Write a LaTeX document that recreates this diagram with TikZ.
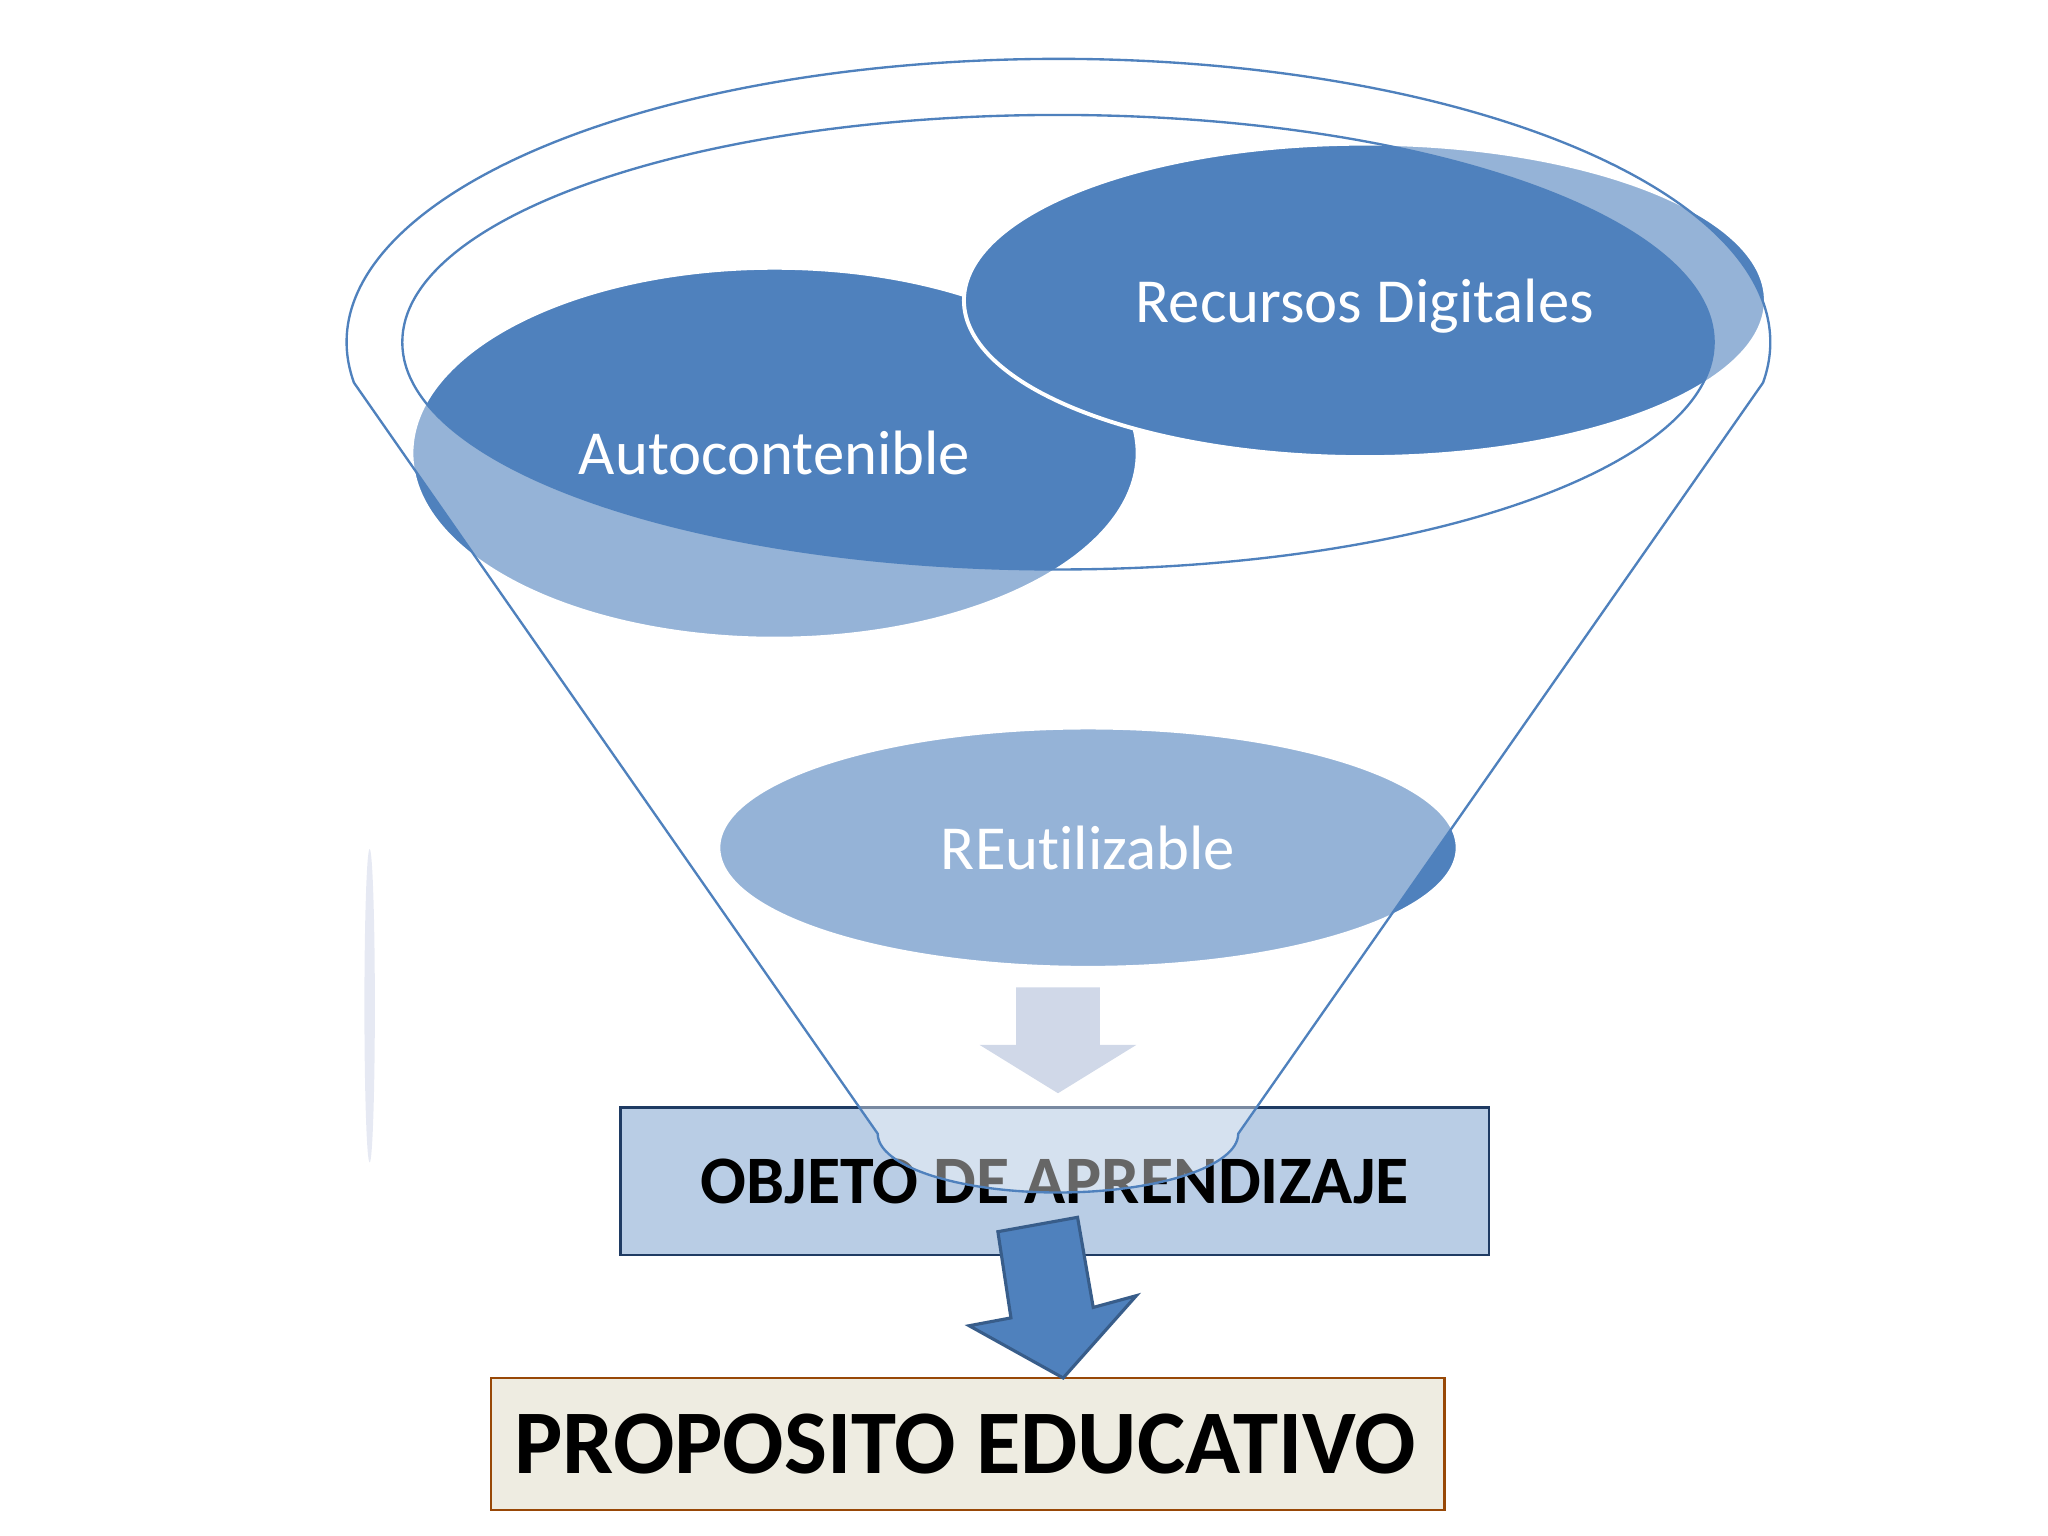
\documentclass[tikz,border=0pt]{standalone}
\usepackage{fontspec}
\setmainfont{Carlito}[Ligatures=NoCommon]
\usepackage{tikz}
\usetikzlibrary{shapes.geometric}
\definecolor{accent}{HTML}{4F81BD}
\definecolor{accentdark}{HTML}{385D8A}
\definecolor{boxblue}{HTML}{B9CDE5}
\definecolor{boxline}{HTML}{1F3B63}
\definecolor{paper}{HTML}{EEECE1}
\definecolor{brownline}{HTML}{984807}
\definecolor{pale}{HTML}{D0D8E8}
\definecolor{sliver}{HTML}{E6E9F3}

\begin{document}
\begin{tikzpicture}[x=0.5pt, y=-0.5pt,
  bubble/.style={ellipse, fill=accent, draw=white, line width=1.5pt, inner sep=0pt,
    text=white, font=\fontsize{24}{29}\selectfont},
  funnel/.style={draw=accent, line width=0.9pt},
  labelbox/.style={rectangle, inner sep=0pt, font=\bfseries\fontsize{26}{31}\selectfont}]
  \useasboundingbox (0,0) rectangle (1568,1176);
  \fill[sliver] (283,770) ellipse [x radius=4, y radius=120];

  \node[bubble, minimum width=278pt, minimum height=142pt] (auto) at (593,347) {Autocontenible};
  \node[bubble, minimum width=307pt, minimum height=120pt, text depth=0pt] (recursos) at (1045,230) {Recursos Digitales};
  \node[bubble, minimum width=283pt, minimum height=92pt] (reuso) at (833,649) {REutilizable};

  \node[labelbox, fill=boxblue, draw=boxline, line width=1pt, minimum width=332.5pt, minimum height=56.5pt]
    (objeto) at (807.5,904.5) {OBJETO DE APRENDIZAJE};

  \fill[white, fill opacity=0.4, even odd rule]
    (271,293) arc [start angle=171.8, end angle=368.2, x radius=545, y radius=217]
    -- (948,868) arc [start angle=0, end angle=180, x radius=138, y radius=45] -- cycle
    (810,262) ellipse [x radius=502, y radius=174];
  \draw[funnel] (271,293) arc [start angle=171.8, end angle=368.2, x radius=545, y radius=217]
    -- (948,868) arc [start angle=0, end angle=180, x radius=138, y radius=45] -- cycle;
  \draw[funnel] (810,262) ellipse [x radius=502, y radius=174];

  \fill[pale] (778,756) -- (842,756) -- (842,800) -- (870,800) -- (810,837) -- (750,800) -- (778,800) -- cycle;

  \node[labelbox, fill=paper, draw=brownline, line width=1pt, minimum width=365pt, minimum height=50.5pt,
    font=\bfseries\fontsize{34.8}{40}\selectfont] (proposito) at (741,1105.5) {\hspace*{-2pt}PROPOSITO EDUCATIVO};

  \filldraw[fill=accent, draw=accentdark, line width=1.2pt]
    (764,943) -- (825,932) -- (837,1001) -- (870,992) -- (814,1055) -- (742,1015) -- (774,1009) -- cycle;
\end{tikzpicture}
\end{document}
